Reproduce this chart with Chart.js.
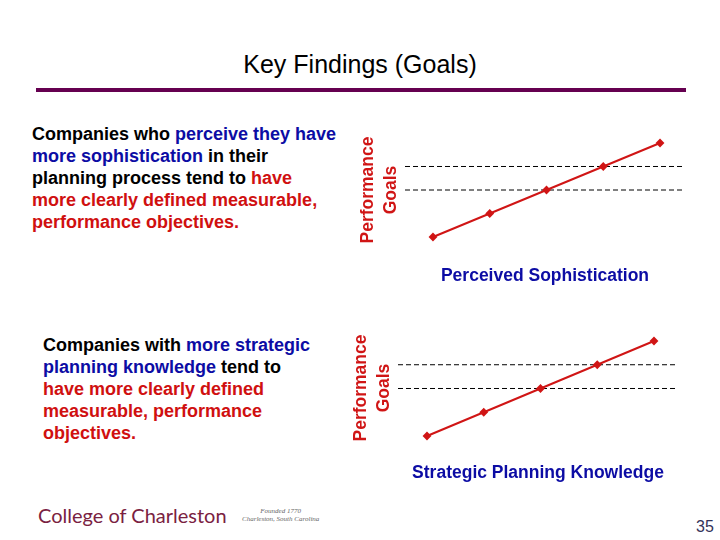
<!DOCTYPE html>
<html>
<head>
<meta charset="utf-8">
<script src="https://cdn.jsdelivr.net/npm/chart.js@4/dist/chart.umd.min.js"></script>
<style>
  body { margin: 0; width: 720px; height: 540px; background: #fff; position: relative; overflow: hidden; font-family: "Liberation Sans", Arial, sans-serif; }
  .abs { position: absolute; }
  #title { left: 0; width: 720px; top: 49px; text-align: center; font-size: 25px; line-height: 30px; color: #000; }
  #bar { left: 36px; top: 88px; width: 650px; height: 4px; background: #650050; }
  .para { font-weight: bold; font-size: 18px; line-height: 22px; color: #000; white-space: nowrap; }
  .blue { color: #0c0ca4; }
  .red { color: #d01010; }
  #logo { left: 38px; top: 503px; font-family: Lato, "Open Sans", sans-serif; font-size: 20px; color: #7a2141; white-space: nowrap; }
  #founded { left: 242px; top: 507px; font-family: "Liberation Serif", serif; font-style: italic; font-size: 7px; line-height: 8px; color: #666; text-align: center; white-space: nowrap; }
  #page { left: 696px; top: 518px; font-size: 16px; color: #33335a; }
</style>
</head>
<body>
<div id="title" class="abs">Key Findings (Goals)</div>
<div id="bar" class="abs"></div>

<div class="abs para" style="left:32px; top:123px;">
  Companies who <span class="blue">perceive they have</span><br>
  <span class="blue">more sophistication</span> in their<br>
  planning process tend to <span class="red">have</span><br>
  <span class="red">more clearly defined measurable,</span><br>
  <span class="red">performance objectives.</span>
</div>

<div class="abs para" style="left:43px; top:334px;">
  Companies with <span class="blue">more strategic</span><br>
  <span class="blue">planning knowledge</span> tend to<br>
  <span class="red">have more clearly defined</span><br>
  <span class="red">measurable, performance</span><br>
  <span class="red">objectives.</span>
</div>

<canvas id="chartTop" class="abs" width="335" height="171" style="left:350px; top:120px;"></canvas>
<canvas id="chartBottom" class="abs" width="338" height="170" style="left:340px; top:318px;"></canvas>

<div id="logo" class="abs">College of Charleston</div>
<div id="founded" class="abs">Founded 1770<br>Charleston, South Carolina</div>
<div id="page" class="abs">35</div>

<script>
// x positions of the five points, and performance goal levels
const levels = [0, 1, 2, 3, 4];
const goalsTop = [1, 2, 3, 4, 5];
const goalsBottom = [1, 2, 3, 4, 5];
// the two dashed reference levels
const refLevels = [3, 4];

const yTitle = ['Performance', 'Goals'];
const xTitleTop = 'Perceived Sophistication';
const xTitleBottom = 'Strategic Planning Knowledge';

const RED = '#d01515';
const BLUE = '#0c0ca4';

function makeChart(id, goals, xTitle, xr, yr, yPad, xPadTop) {
    const ctx = document.getElementById(id);

    // dashed lines run over the full x range
    const refSets = refLevels.map(v => ({
        data: [{ x: xr[0], y: v }, { x: xr[1], y: v }],
        borderColor: '#000',
        borderWidth: 1,
        borderDash: [5, 3],
        pointRadius: 0,
        fill: false
    }));

    return new Chart(ctx, {
        type: 'line',
        data: {
            datasets: [
                {
                    data: levels.map((x, i) => ({ x: x, y: goals[i] })),
                    borderColor: RED,
                    backgroundColor: RED,
                    borderWidth: 2,
                    pointStyle: 'rectRot',
                    pointRadius: 3,
                    fill: false
                },
                ...refSets
            ]
        },
        options: {
            responsive: false,
            animation: false,
            layout: { autoPadding: false, padding: { top: 10, left: 0, right: 0, bottom: 0 } },
            plugins: { legend: { display: false }, tooltip: { enabled: false } },
            scales: {
                x: {
                    type: 'linear',
                    min: xr[0],
                    max: xr[1],
                    ticks: { display: false },
                    grid: { display: false, drawTicks: false },
                    border: { display: false },
                    title: {
                        display: true,
                        text: xTitle,
                        color: BLUE,
                        font: { family: 'Liberation Sans, Arial', size: 17.5, weight: 'bold', lineHeight: 1.2 },
                        padding: { top: xPadTop, bottom: 4.5 }
                    }
                },
                y: {
                    min: yr[0],
                    max: yr[1],
                    ticks: { display: false },
                    grid: { display: false, drawTicks: false },
                    border: { display: false },
                    title: {
                        display: true,
                        text: yTitle,
                        color: RED,
                        font: { family: 'Liberation Sans, Arial', size: 17.5, weight: 'bold', lineHeight: 1.3 },
                        padding: { top: yPad[0], bottom: yPad[1] }
                    }
                }
            }
        }
    });
}

makeChart('chartTop', goalsTop, xTitleTop, [-0.493, 4.44], [0.447, 5.553], [6.6, 2.9], 15.5);
makeChart('chartBottom', goalsBottom, xTitleBottom, [-0.511, 4.423], [0.495, 5.547], [10.1, 2.4], 14.5);
</script>
</body>
</html>
